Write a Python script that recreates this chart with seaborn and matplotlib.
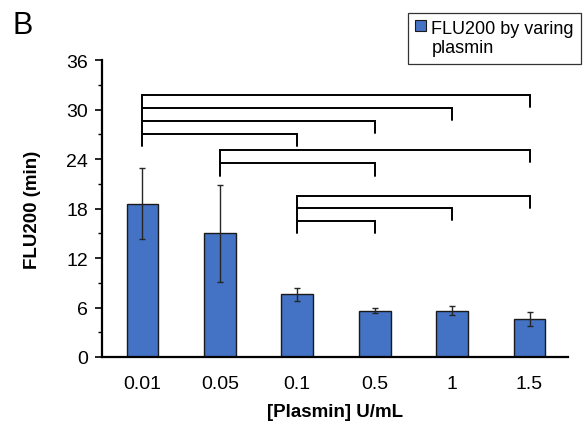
import matplotlib
matplotlib.use("Agg")
import matplotlib.pyplot as plt
import seaborn as sns
import pandas as pd
from matplotlib.patches import Patch
from matplotlib.ticker import MultipleLocator

categories = ["0.01", "0.05", "0.1", "0.5", "1", "1.5"]
flu200 = [18.6, 15.0, 7.6, 5.6, 5.6, 4.6]
errors = [4.3, 5.9, 0.8, 0.3, 0.55, 0.8]

# significance brackets: (start category, end category, height in min)
bracket_start = ["0.01", "0.01", "0.01", "0.01", "0.05", "0.05", "0.1", "0.1", "0.1"]
bracket_end = ["1.5", "1", "0.5", "0.1", "1.5", "0.5", "1.5", "1", "0.5"]
bracket_height = [31.8, 30.2, 28.6, 27.05, 25.1, 23.5, 19.55, 18.05, 16.5]
bracket_drop = 1.5

sns.set_theme(style="white")
plt.rcParams["font.family"] = ["Liberation Sans", "DejaVu Sans"]

df = pd.DataFrame({"conc": categories, "flu": flu200})

fig = plt.figure(figsize=(5.87, 4.27), dpi=100)
ax = fig.add_axes([0.174, 0.1616, 0.794, 0.6955])

sns.barplot(data=df, x="conc", y="flu", order=categories, color="#4472C4",
            saturation=1, width=0.41, edgecolor="#1a1a1a", linewidth=1.0,
            errorbar=None, ax=ax)
xpos = list(range(len(categories)))
ax.errorbar(xpos, flu200, yerr=errors, fmt="none", ecolor="#262626",
            elinewidth=1.0, capsize=2.5, capthick=1.0, zorder=5)

for s, e, h in zip(bracket_start, bracket_end, bracket_height):
    x0 = categories.index(s)
    x1 = categories.index(e)
    ax.plot([x0, x0, x1, x1], [h - bracket_drop, h, h, h - bracket_drop],
            color="black", lw=1.4, solid_joinstyle="miter", clip_on=False, zorder=6)

ax.set_xlim(-0.52, 5.5)
ax.set_ylim(0, 36)
ax.yaxis.set_major_locator(MultipleLocator(6))
ax.yaxis.set_minor_locator(MultipleLocator(3))
ax.tick_params(axis="y", which="major", direction="out", length=5, width=1.2,
               color="black", left=True, labelsize=14, pad=5)
ax.tick_params(axis="y", which="minor", direction="out", length=3, width=1.0,
               color="black", left=True)
ax.tick_params(axis="x", length=0, labelsize=14, pad=13)
for lbl in ax.get_xticklabels() + ax.get_yticklabels():
    lbl.set_color("black")
sns.despine(ax=ax)
for sp in ("left", "bottom"):
    ax.spines[sp].set_color("black")
    ax.spines[sp].set_linewidth(1.6)

ax.set_xlabel("[Plasmin] U/mL", fontsize=13.5, fontweight="bold", color="black", labelpad=8)
ax.set_ylabel("FLU200 (min)", fontsize=13.5, fontweight="bold", color="black", labelpad=18)

fig.text(0.022, 0.94, "B", fontsize=22, color="black", va="center", ha="left")

handle = Patch(facecolor="#4472C4", edgecolor="#1a1a1a", linewidth=0.8)
leg = fig.legend([handle], ["FLU200 by varing\nplasmin"], loc="upper right",
                 bbox_to_anchor=(0.99, 0.968), fontsize=13, frameon=True,
                 fancybox=False, handlelength=0.6, handleheight=0.6,
                 handletextpad=0.3, borderpad=0.4, borderaxespad=0)
leg.get_frame().set_edgecolor("black")
leg.get_frame().set_linewidth(0.9)
for t in leg.get_texts():
    t.set_color("black")
try:
    for col in leg._legend_handle_box.get_children():
        for entry in col.get_children():
            entry.align = "top"
except Exception:
    pass

fig.savefig("out.png", dpi=100)
